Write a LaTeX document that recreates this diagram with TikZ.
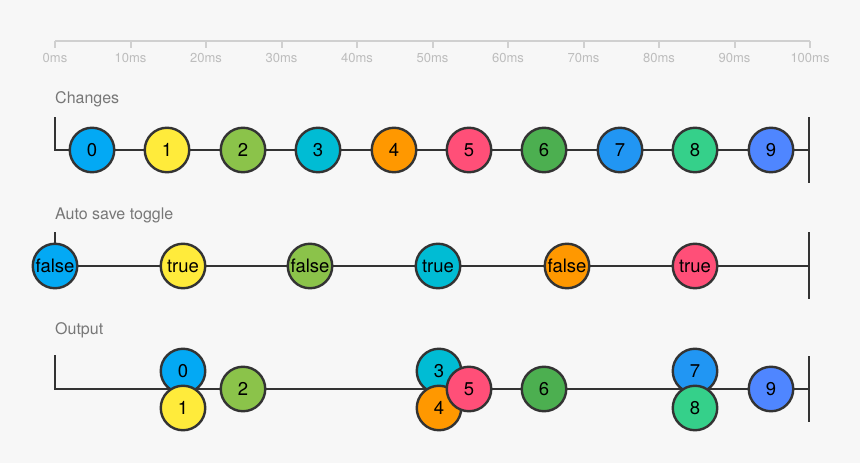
\documentclass[tikz,border=0pt]{standalone}
\usepackage{fontspec}
\setmainfont{TeX Gyre Heros}
\definecolor{bg}{HTML}{F7F7F7}
\definecolor{axisgray}{HTML}{D0D0D0}
\definecolor{tickgray}{HTML}{BDBDBD}
\definecolor{labelgray}{HTML}{777777}
\definecolor{ink}{HTML}{333333}
\definecolor{mlightblue}{HTML}{03A9F4}
\definecolor{myellow}{HTML}{FFEB3B}
\definecolor{mlime}{HTML}{8BC34A}
\definecolor{mcyan}{HTML}{00BCD4}
\definecolor{morange}{HTML}{FF9800}
\definecolor{mpink}{HTML}{FF4F78}
\definecolor{mgreen}{HTML}{4CAF50}
\definecolor{mblue}{HTML}{2196F3}
\definecolor{mmint}{HTML}{35D08A}
\definecolor{mindigo}{HTML}{4F86FF}
\tikzset{
  axis/.style={draw=axisgray, line width=2pt},
  ticklabel/.style={anchor=base, text=tickgray, inner sep=0pt, font=\fontsize{13}{15}\selectfont},
  rowlabel/.style={anchor=base west, text=labelgray, inner sep=0pt, font=\fontsize{16}{18}\selectfont},
  timeline/.style={draw=ink, line width=2.4pt},
  marble/.style={circle, draw=ink, line width=2.4pt, minimum size=44.5pt, inner sep=0pt, font=\fontsize{18.5}{20}\selectfont}
}
\begin{document}
\begin{tikzpicture}[x=1pt,y=-1pt]
  \fill[bg] (0,0) rectangle (860,463);
  \useasboundingbox (0,0) rectangle (860,463);
  % time axis
  \coordinate (a0) at (55,41);
  \coordinate (a1) at (810,41);
  \draw[axis] (a0) -- (a1);
  \draw[axis] (55,41) -- (55,47.5);
  \draw[axis] (130.5,41) -- (130.5,47.5);
  \draw[axis] (206,41) -- (206,47.5);
  \draw[axis] (281.5,41) -- (281.5,47.5);
  \draw[axis] (357,41) -- (357,47.5);
  \draw[axis] (432.5,41) -- (432.5,47.5);
  \draw[axis] (508,41) -- (508,47.5);
  \draw[axis] (583.5,41) -- (583.5,47.5);
  \draw[axis] (659,41) -- (659,47.5);
  \draw[axis] (734.5,41) -- (734.5,47.5);
  \draw[axis] (810,41) -- (810,47.5);
  \node[ticklabel] (l0) at (55,62) {0ms};
  \node[ticklabel] (l10) at (130.5,62) {10ms};
  \node[ticklabel] (l20) at (206,62) {20ms};
  \node[ticklabel] (l30) at (281.5,62) {30ms};
  \node[ticklabel] (l40) at (357,62) {40ms};
  \node[ticklabel] (l50) at (432.5,62) {50ms};
  \node[ticklabel] (l60) at (508,62) {60ms};
  \node[ticklabel] (l70) at (583.5,62) {70ms};
  \node[ticklabel] (l80) at (659,62) {80ms};
  \node[ticklabel] (l90) at (734.5,62) {90ms};
  \node[ticklabel] (l100) at (810,62) {100ms};

  % changes
  \node[rowlabel] (changes) at (55,103.5) {Changes};
  \coordinate (cs) at (55,117);
  \coordinate (cb) at (55,150);
  \coordinate (ce) at (809,150);
  \coordinate (ct) at (809,117);
  \coordinate (cd) at (809,183);
  \draw[timeline] (cs) -- (cb) -- (ce);
  \draw[timeline] (ct) -- (cd);
  \node[marble, fill=mlightblue] (c0) at (92,150) {0};
  \node[marble, fill=myellow] (c1) at (167,150) {1};
  \node[marble, fill=mlime] (c2) at (243,150) {2};
  \node[marble, fill=mcyan] (c3) at (318,150) {3};
  \node[marble, fill=morange] (c4) at (394,150) {4};
  \node[marble, fill=mpink] (c5) at (469,150) {5};
  \node[marble, fill=mgreen] (c6) at (544,150) {6};
  \node[marble, fill=mblue] (c7) at (620,150) {7};
  \node[marble, fill=mmint] (c8) at (695,150) {8};
  \node[marble, fill=mindigo] (c9) at (771,150) {9};

  % auto save toggle
  \node[rowlabel] (toggle) at (55,219) {Auto save toggle};
  \coordinate (ts) at (55,232);
  \coordinate (tb) at (55,266);
  \coordinate (te) at (809,266);
  \coordinate (tt) at (809,232);
  \coordinate (td) at (809,299);
  \draw[timeline] (ts) -- (tb) -- (te);
  \draw[timeline] (tt) -- (td);
  \node[marble, fill=mlightblue] (t0) at (55,266) {false};
  \node[marble, fill=myellow] (t1) at (183,266) {true};
  \node[marble, fill=mlime] (t2) at (310,266) {false};
  \node[marble, fill=mcyan] (t3) at (438,266) {true};
  \node[marble, fill=morange] (t4) at (567,266) {false};
  \node[marble, fill=mpink] (t5) at (695,266) {true};

  % output
  \node[rowlabel] (output) at (55,334) {Output};
  \coordinate (os) at (55,355);
  \coordinate (ob) at (55,389);
  \coordinate (oe) at (809,389);
  \coordinate (ot) at (809,356);
  \coordinate (od) at (809,422);
  \draw[timeline] (os) -- (ob) -- (oe);
  \draw[timeline] (ot) -- (od);
  \node[marble, fill=mlightblue] (o0) at (183,371) {0};
  \node[marble, fill=myellow] (o1) at (183,408) {1};
  \node[marble, fill=mlime] (o2) at (243,389) {2};
  \node[marble, fill=mcyan] (o3) at (439,371) {3};
  \node[marble, fill=morange] (o4) at (439,408) {4};
  \node[marble, fill=mpink] (o5) at (469,389) {5};
  \node[marble, fill=mgreen] (o6) at (544,389) {6};
  \node[marble, fill=mblue] (o7) at (695,371) {7};
  \node[marble, fill=mmint] (o8) at (695,408) {8};
  \node[marble, fill=mindigo] (o9) at (771,389) {9};
\end{tikzpicture}
\end{document}
